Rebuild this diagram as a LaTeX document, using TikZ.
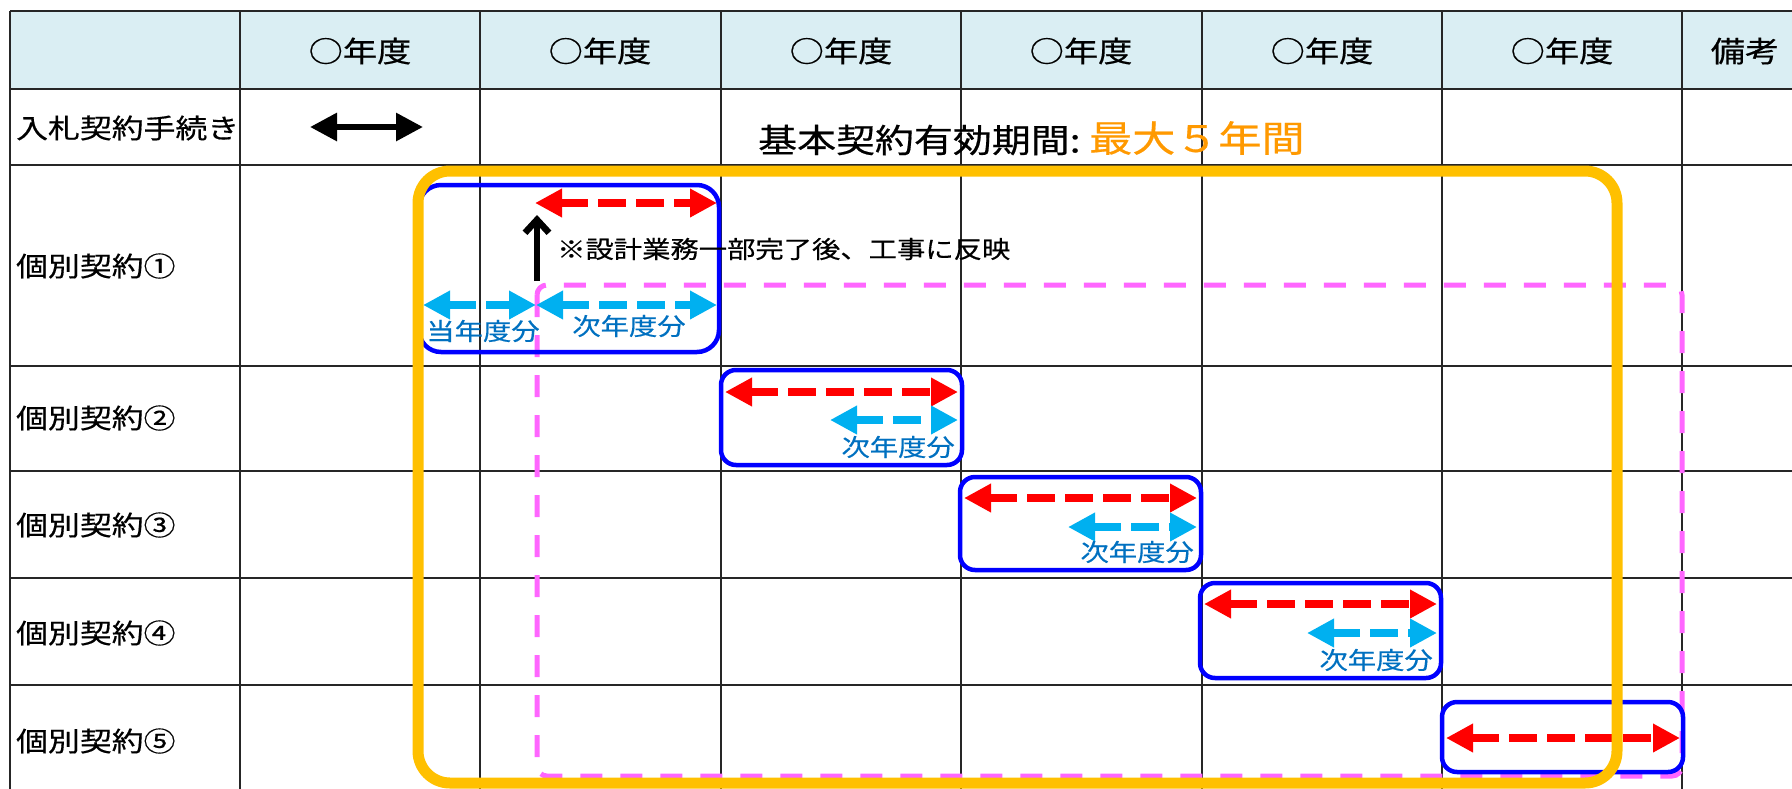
\documentclass[tikz,border=0pt]{standalone}
\usepackage{fontspec}
\newfontfamily\jp{Noto Sans CJK JP}[FakeStretch=1.18,FakeBold=0.5]
\usetikzlibrary{arrows.meta}
\definecolor{hdr}{HTML}{DAEEF3}
\definecolor{gridc}{HTML}{262626}
\definecolor{gold}{HTML}{FFC000}
\definecolor{pinkc}{HTML}{FF66FF}
\definecolor{boxblue}{HTML}{0000FF}
\definecolor{arred}{HTML}{FF0000}
\definecolor{arcyan}{HTML}{00B0F0}
\definecolor{txtblue}{HTML}{0070C0}
\definecolor{orangec}{HTML}{FF9900}
\newcommand{\fsz}[1]{\fontsize{#1pt}{#1pt}\selectfont}
\tikzset{
  hdrtext/.style={font=\jp\fsz{29}, inner sep=0pt},
  rowlabel/.style={font=\jp\fsz{27}, anchor=west, inner sep=0pt},
  notetext/.style={font=\jp\fsz{24}, anchor=west, inner sep=0pt},
  subtext/.style={font=\jp\fsz{24}, text=txtblue, inner sep=0pt},
  gridline/.style={draw=gridc, line width=2pt},
  contract/.style={draw=boxblue, line width=4.5pt, rounded corners=15pt},
  redarrow/.style={draw=arred, line width=8.5pt, dash pattern=on 28pt off 10pt,
    {Triangle[length=27pt,width=27pt]}-{Triangle[length=27pt,width=27pt]}},
  cyanarrow/.style={draw=arcyan, line width=8pt, dash pattern=on 28pt off 10pt,
    {Triangle[length=27pt,width=27pt]}-{Triangle[length=27pt,width=27pt]}},
  blackarrow/.style={draw=black, line width=6pt,
    {Triangle[length=27pt,width=27pt]}-{Triangle[length=27pt,width=27pt]}},
  uparrow/.style={draw=black, line width=6.5pt, -{Straight Barb[length=13pt,width=24pt]}},
  pinkframe/.style={draw=pinkc, line width=5pt, dash pattern=on 22pt off 18pt, rounded corners=10pt},
  goldframe/.style={draw=gold, line width=11pt, rounded corners=32pt},
}
\begin{document}
\begin{tikzpicture}[x=1pt,y=-1pt]
\useasboundingbox (0,0) rectangle (1792,788);
\clip (0,0) rectangle (1792,788);
% header fill
\fill[hdr] (10,11) rectangle (1800,89);
% grid
\foreach \gx in {10,240,480,721,961,1202,1442,1682}
  \draw[gridline] (\gx,11) -- (\gx,800);
\foreach \gy in {11,89,165,366,471,578,685}
  \draw[gridline] (10,\gy) -- (1800,\gy);
% header texts
\node[hdrtext] (h1) at (360,51) {○年度};
\node[hdrtext] (h2) at (600,51) {○年度};
\node[hdrtext] (h3) at (841,51) {○年度};
\node[hdrtext] (h4) at (1081,51) {○年度};
\node[hdrtext] (h5) at (1322,51) {○年度};
\node[hdrtext] (h6) at (1562,51) {○年度};
\node[hdrtext] (h7) at (1745,51) {備考};
% row labels
\node[rowlabel] (l0) at (16,128) {入札契約手続き};
\node[rowlabel] (l1) at (16,266) {個別契約①};
\node[rowlabel] (l2) at (16,418) {個別契約②};
\node[rowlabel] (l3) at (16,525) {個別契約③};
\node[rowlabel] (l4) at (16,633) {個別契約④};
\node[rowlabel] (l5) at (16,741) {個別契約⑤};
% title
\node[font=\jp\fsz{33}, anchor=west, inner sep=0pt] (title) at (758,140) {基本契約有効期間:};
\node[font=\jp\fsz{36.5}, text=orangec, anchor=west, inner sep=0pt] (titleval) at (1089,138) {最大５年間};
% pink frame
\draw[pinkframe] (537,285) rectangle (1682,776);
% contract boxes
\draw[contract, rounded corners=22pt] (419,185) rectangle (719,352);
\draw[contract] (721,370) rectangle (962,465);
\draw[contract] (960,477) rectangle (1201,570);
\draw[contract] (1200,583) rectangle (1441,678);
\draw[contract] (1442,702) rectangle (1683,772);
% arrow end points
\coordinate (bkA) at (310,127);
\coordinate (bkB) at (423,127);
\coordinate (upA) at (537,281);
\coordinate (upB) at (537,215);
\coordinate (r1A) at (535,203);
\coordinate (r1B) at (717,203);
\coordinate (c1A) at (423,305);
\coordinate (c1M) at (536,305);
\coordinate (c1B) at (717,305);
\coordinate (r2A) at (725,392);
\coordinate (r2B) at (958,392);
\coordinate (c2A) at (830,420);
\coordinate (c2B) at (958,420);
\coordinate (r3A) at (964,498);
\coordinate (r3B) at (1197,498);
\coordinate (c3A) at (1068,527);
\coordinate (c3B) at (1197,527);
\coordinate (r4A) at (1204,604);
\coordinate (r4B) at (1437,604);
\coordinate (c4A) at (1307,633);
\coordinate (c4B) at (1437,633);
\coordinate (r5A) at (1446,738);
\coordinate (r5B) at (1680,738);
% arrows
\draw[blackarrow] (bkA) -- (bkB);
\draw[uparrow] (upA) -- (upB);
\draw[redarrow] (r1A) -- (r1B);
\draw[cyanarrow] (c1A) -- (c1M);
\draw[cyanarrow] (c1M) -- (c1B);
\draw[redarrow] (r2A) -- (r2B);
\draw[cyanarrow] (c2A) -- (c2B);
\draw[redarrow] (r3A) -- (r3B);
\draw[cyanarrow] (c3A) -- (c3B);
\draw[redarrow] (r4A) -- (r4B);
\draw[cyanarrow] (c4A) -- (c4B);
\draw[redarrow] (r5A) -- (r5B);
% texts in contract rows
\node[notetext] (note) at (557,249) {※設計業務一部完了後、工事に反映};
\node[subtext] (t1a) at (483,331) {当年度分};
\node[subtext] (t1b) at (629,326) {次年度分};
\node[subtext, anchor=east] (t2) at (955,447) {次年度分};
\node[subtext, anchor=east] (t3) at (1194,552) {次年度分};
\node[subtext, anchor=east] (t4) at (1433,660) {次年度分};
% gold frame
\draw[goldframe] (418,171) rectangle (1617,783);
\end{tikzpicture}
\end{document}
